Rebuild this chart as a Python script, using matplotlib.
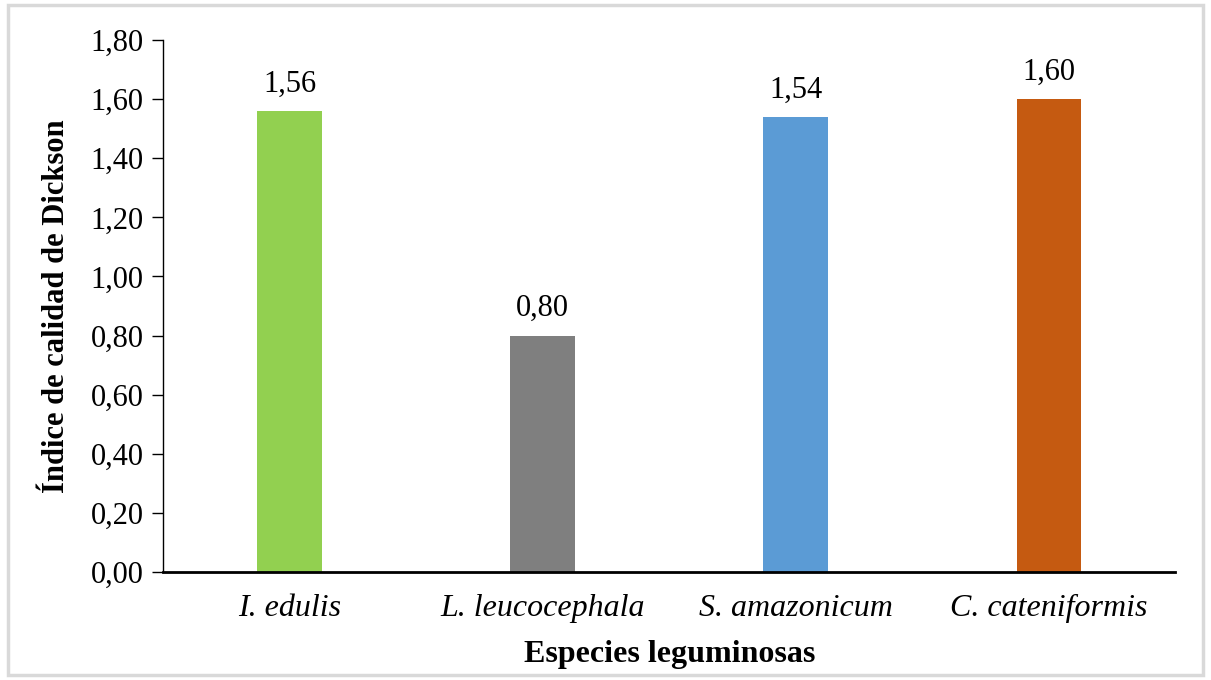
import matplotlib
matplotlib.use("Agg")
import matplotlib.pyplot as plt
from matplotlib.patches import Rectangle

plt.rcParams["font.family"] = ["Liberation Serif", "DejaVu Serif"]

species = ["I. edulis", "L. leucocephala", "S. amazonicum", "C. cateniformis"]
dickson = [1.56, 0.80, 1.54, 1.60]
colors = ["#92D050", "#7F7F7F", "#5B9BD5", "#C55A11"]
yticks = [0.0, 0.2, 0.4, 0.6, 0.8, 1.0, 1.2, 1.4, 1.6, 1.8]

fig = plt.figure(figsize=(12.11, 6.80), dpi=100)
ax = fig.add_axes([0.1346, 0.159, 0.836, 0.782])

x = range(len(species))
bars = ax.bar(x, dickson, width=0.255, color=colors)

for b, v in zip(bars, dickson):
    ax.annotate(f"{v:.2f}".replace(".", ","),
                (b.get_x() + b.get_width() / 2, v),
                xytext=(0, 9), textcoords="offset points",
                ha="center", va="bottom", fontsize=22)

ax.set_xlim(-0.5, 3.5)
ax.set_ylim(0, 1.8)
ax.set_yticks(yticks)
ax.set_yticklabels([f"{t:.2f}".replace(".", ",") for t in yticks], fontsize=22)
ax.set_xticks(list(x))
ax.set_xticklabels(species, fontsize=23, style="italic")
ax.tick_params(axis="x", length=0, pad=16)
ax.tick_params(axis="y", length=8, width=1, direction="out", pad=6)

ax.spines["top"].set_visible(False)
ax.spines["right"].set_visible(False)
ax.spines["left"].set_linewidth(1.0)
ax.spines["bottom"].set_linewidth(2.0)

ax.set_xlabel("Especies leguminosas", fontsize=23, fontweight="bold", labelpad=12)
ax.set_ylabel("Índice de calidad de Dickson", fontsize=22, fontweight="bold", labelpad=14)

fig.patches.append(Rectangle((0.007, 0.008), 0.986, 0.984, transform=fig.transFigure,
                             fill=False, edgecolor="#D9D9D9", linewidth=2.5))

fig.savefig("out.png", dpi=100)
